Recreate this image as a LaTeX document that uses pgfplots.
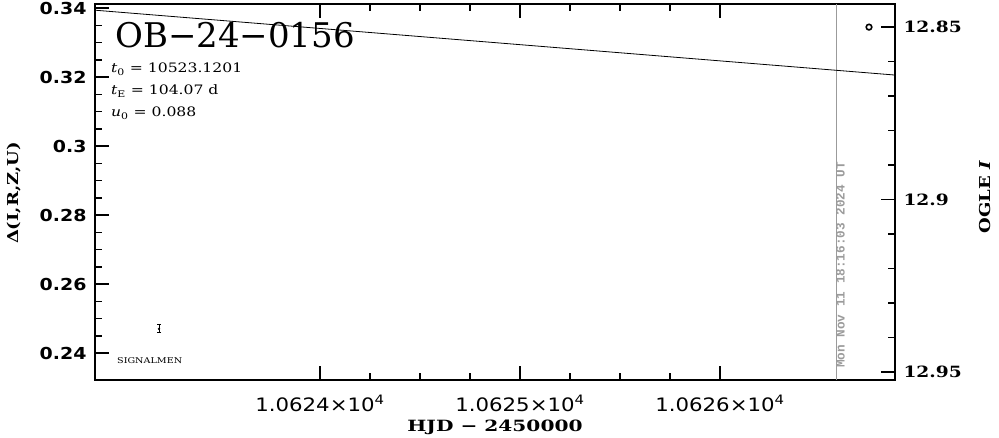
\documentclass[border=0pt]{standalone}
\usepackage{fontspec}
\setmainfont{DejaVu Serif}[FakeStretch=1.2]
\newfontfamily\ftitle{DejaVu Serif}
\newfontfamily\fsans{DejaVu Sans}[FakeStretch=1.15]
\newfontfamily\fsansb{DejaVu Sans}[FakeStretch=1.15]
\newfontfamily\fserif{DejaVu Serif}[FakeStretch=1.3]
\newfontfamily\fmono{Liberation Mono}
\usepackage{pgfplots}
\pgfplotsset{compat=1.18}
\definecolor{dategray}{RGB}{155,155,155}
\pgfplotsset{
  common/.style={
    at={(95pt,58pt)}, anchor=south west,
    scale only axis, width=800pt, height=376pt,
    xmin=10622.875, xmax=10626.875,
    scaled x ticks=false, scaled y ticks=false,
    tick align=inside,
    major tick length=14pt, minor tick length=7pt,
    every tick/.style={black, line width=1.5pt},
    axis line style={line width=2pt},
  }
}
\begin{document}
\begin{tikzpicture}
\useasboundingbox (0,0) rectangle (999pt,438pt);
\begin{axis}[
  common,
  ymin=0.2322, ymax=0.3412,
  xtick={10624,10625,10626},
  xticklabels={1.0624×10\textsuperscript{4},1.0625×10\textsuperscript{4},1.0626×10\textsuperscript{4}},
  minor x tick num=3,
  ytick={0.24,0.26,0.28,0.30,0.32,0.34},
  yticklabels={0.24,0.26,0.28,0.3,0.32,0.34},
  minor y tick num=3,
  ytick pos=left, xtick pos=both,
  xticklabel style={font=\fsans\fontsize{18.5}{18.5}\selectfont, yshift=-12pt},
  yticklabel style={font=\fsansb\bfseries\fontsize{16.5}{16.5}\selectfont, xshift=-5pt},
  xlabel={HJD − 2450000},
  xlabel style={font=\fserif\bfseries\fontsize{15.5}{15.5}\selectfont, at={(axis description cs:0.5,-0.125)}, anchor=center},
  ylabel={Δ(I,R,Z,U)},
  ylabel style={font=\bfseries\fontsize{15}{15}\selectfont, at={(axis description cs:-0.101,0.497)}, anchor=center},
]
\addplot[dategray, line width=1pt] coordinates {(10626.58,0.2322) (10626.58,0.3412)};
\addplot[black, only marks, mark=*, mark size=1pt,
  error bars/.cd, y dir=both, y explicit,
  error bar style={line width=1pt},
  error mark options={rotate=90, mark size=2pt, line width=1pt}]
  coordinates {(10623.195,0.2470) +- (0,0.00116)};
\node[anchor=base west, inner sep=0, font=\ftitle\fontsize{34}{34}\selectfont] at (axis description cs:0.025,0.8856) {OB−24−0156};
\node[anchor=base west, inner sep=0, font=\fontsize{13}{13}\selectfont] at (axis description cs:0.02,0.8165) {\textit{t}\textsubscript{0} = 10523.1201};
\node[anchor=base west, inner sep=0, font=\fontsize{13}{13}\selectfont] at (axis description cs:0.02,0.7580) {\textit{t}\textsubscript{E} = 104.07 d};
\node[anchor=base west, inner sep=0, font=\fontsize{13}{13}\selectfont] at (axis description cs:0.02,0.6995) {\textit{u}\textsubscript{0} = 0.088};
\node[anchor=base west, inner sep=0, font=\fontsize{8}{8}\selectfont] at (axis description cs:0.0275,0.0452) {SIGNALMEN};
\node[rotate=90, anchor=north west, inner sep=0, xshift=2pt, text=dategray, font=\fmono\bfseries\fontsize{12.7}{12.7}\selectfont] at (axis cs:10626.58,0.2351) {Mon Nov 11 18:16:03 2024 UT};
\end{axis}
\begin{axis}[
  common,
  ymin=12.8433, ymax=12.9523, y dir=reverse,
  axis y line*=right, hide x axis,
  ytick={12.85,12.9,12.95},
  yticklabels={12.85,12.9,12.95},
  minor y tick num=4,
  yticklabel style={font=\bfseries\fontsize{15.5}{15.5}\selectfont, xshift=5pt},
  ylabel={OGLE \textit{I}},
  ylabel style={font=\bfseries\fontsize{15}{15}\selectfont, at={(axis description cs:1.1125,0.487)}, anchor=center},
]
\addplot[black, line width=0.8pt] coordinates {(10622.875,12.8451) (10626.875,12.8639)};
\addplot[black, only marks, mark=o, mark size=2.8pt, line width=1.6pt] coordinates {(10626.745,12.85)};
\end{axis}
\end{tikzpicture}
\end{document}
